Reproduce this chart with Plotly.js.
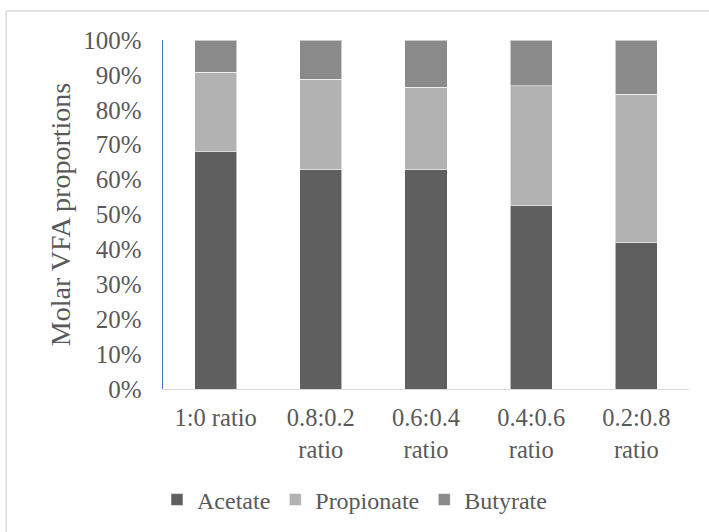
<!DOCTYPE html>
<html>
<head>
<meta charset="utf-8">
<script src="https://cdn.plot.ly/plotly-3.0.1.min.js"></script>
<style>
  html, body { margin: 0; padding: 0; background: #ffffff; }
  #chart { width: 709px; height: 532px; }
</style>
</head>
<body>
<div id="chart"></div>
<script>
// Data (molar VFA proportions, %)
const categories = ["1:0 ratio", "0.8:0.2<br>ratio", "0.6:0.4<br>ratio", "0.4:0.6<br>ratio", "0.2:0.8<br>ratio"];
const acetate    = [68.0, 62.9, 62.9, 52.5, 42.0];
const propionate = [22.7, 25.9, 23.6, 34.4, 42.4];
const butyrate   = [9.3, 11.2, 13.5, 13.1, 15.6];
const seriesNames = ["Acetate", "Propionate", "Butyrate"];
const seriesColors = ["#5f5f5f", "#b2b2b2", "#8a8a8a"];

const textColor = "#595959";
const fontFamily = "'Liberation Serif', 'DejaVu Serif', serif";

const series = [acetate, propionate, butyrate];
const traces = series.map((vals, i) => ({
  type: "bar",
  x: categories,
  y: vals,
  name: seriesNames[i],
  width: 0.4,
  marker: { color: seriesColors[i], line: { color: "rgba(255,255,255,0.55)", width: 1 } },
  hoverinfo: "skip"
}));

// plot area in pixels: left 163, right 689.5, top 40, bottom 389
const W = 709, H = 532;
const mL = 163, mR = 19.5, mT = 40, mB = 143;
const pw = W - mL - mR, ph = H - mT - mB;
const px = v => (v - mL) / pw;
const py = v => (H - mB - v) / ph;

const layout = {
  width: W,
  height: H,
  margin: { l: mL, r: mR, t: mT, b: mB, pad: 0 },
  paper_bgcolor: "#ffffff",
  plot_bgcolor: "#ffffff",
  barmode: "stack",
  showlegend: true,
  font: { family: fontFamily, size: 25, color: textColor },
  xaxis: {
    type: "category",
    showgrid: false,
    zeroline: false,
    showline: true,
    linecolor: "#d9d9d9",
    linewidth: 1.3,
    ticks: "",
    ticklabelstandoff: 6,
    tickfont: { family: fontFamily, size: 24.5, color: textColor },
    fixedrange: true
  },
  yaxis: {
    range: [0, 100],
    dtick: 10,
    ticksuffix: "%",
    showgrid: false,
    zeroline: false,
    showline: true,
    linecolor: "#4a7ac8",
    linewidth: 1.3,
    ticks: "",
    ticklabelstandoff: 15,
    tickfont: { family: fontFamily, size: 25, color: textColor },
    title: { text: "Molar VFA proportions", font: { family: fontFamily, size: 28, color: textColor }, standoff: 4 },
    fixedrange: true
  },
  legend: {
    orientation: "h",
    xref: "container",
    x: 0.5,
    xanchor: "center",
    yref: "container",
    yanchor: "middle",
    y: 1 - 500 / H,
    font: { family: fontFamily, size: 24, color: textColor },
    itemwidth: 30,
    tracegroupgap: 0,
    traceorder: "normal",
    bgcolor: "rgba(0,0,0,0)"
  },
  shapes: [
    { type: "line", xref: "paper", yref: "paper", x0: px(6), x1: px(712), y0: py(11), y1: py(11), line: { color: "#d9d9d9", width: 1.5 } },
    { type: "line", xref: "paper", yref: "paper", x0: px(6), x1: px(6), y0: py(11), y1: py(540), line: { color: "#d9d9d9", width: 1.5 } }
  ]
};

Plotly.newPlot("chart", traces, layout, { staticPlot: true, displayModeBar: false });
</script>
</body>
</html>
